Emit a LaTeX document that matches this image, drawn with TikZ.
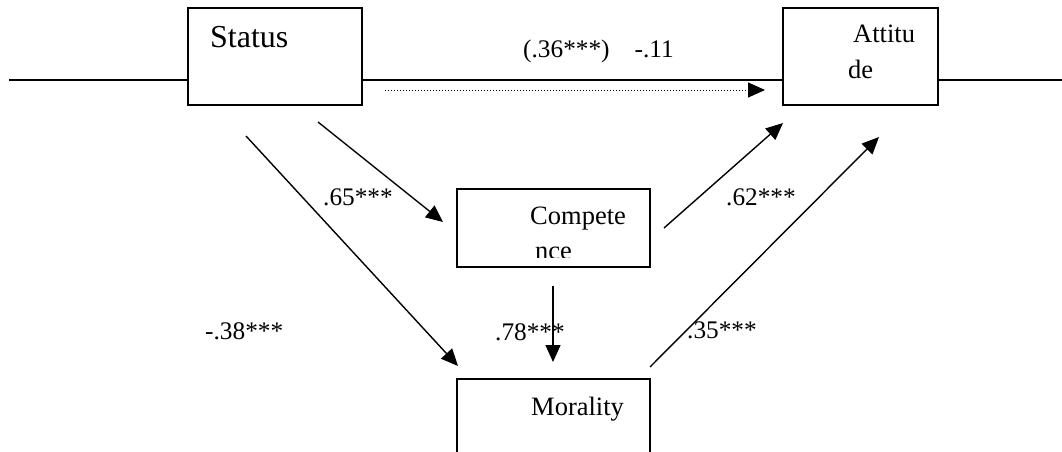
\documentclass[tikz,border=0pt]{standalone}
\usepackage{fontspec}
\setmainfont{Liberation Serif}
\usetikzlibrary{arrows.meta}

\tikzset{
  box/.style={draw, line width=2pt, fill=white, inner sep=0pt},
  lbl/.style={anchor=base west, inner sep=0pt, font=\fontsize{26.5}{32}\selectfont},
  coef/.style={anchor=base west, inner sep=0pt, font=\fontsize{25.3}{30}\selectfont},
  link/.style={line width=1.4pt, -{Triangle[length=17pt, width=15pt]}},
}

\begin{document}
\begin{tikzpicture}[x=1pt, y=-1pt]
      \clip (0,0) rectangle (1062,452);
      % long line behind the boxes
      \coordinate (L) at (9,80);
      \coordinate (R) at (1062,80);
      \draw[line width=2pt] (L)--(R);
      % boxes
      \node[box, minimum width=174pt, minimum height=97pt] (status) at (275,56.5) {};
      \node[box, minimum width=155pt, minimum height=97pt] (attitude) at (860.5,56.5) {};
      \node[box, minimum width=193pt, minimum height=78pt] (competence) at (553.5,228) {};
      \node[box, minimum width=193pt, minimum height=101pt] (morality) at (553.5,429.5) {};
      % box texts
      \node[lbl, font=\fontsize{32}{38}\selectfont] (tStatus) at (210,48) {Status};
      \node[lbl] (tAtt1) at (853,43) {Attitu};
      \node[lbl] (tAtt2) at (848,78) {de};
      \node[lbl] (tComp1) at (530,224) {Compete};
      \begin{scope}
        \clip (457,189) rectangle (650,257);
        \node[lbl] (tComp2) at (535,259) {nce};
      \end{scope}
      \node[lbl] (tMor) at (531,415) {Morality};
      % path ends
      \coordinate (d1) at (385,90);   \coordinate (d2) at (765,90);
      \coordinate (sc1) at (318,122); \coordinate (sc2) at (443,222);
      \coordinate (sm1) at (246,136); \coordinate (sm2) at (458,366);
      \coordinate (cm1) at (553,286); \coordinate (cm2) at (553,362);
      \coordinate (ca1) at (664,228); \coordinate (ca2) at (783,123);
      \coordinate (ma1) at (650,367); \coordinate (ma2) at (879,137);
      % coefficients
      \node[coef] (kDirect) at (523,58) {(.36***)\hspace{25pt}-.11};
      \node[coef] (kSC) at (323,205) {.65***};
      \node[coef] (kCA) at (726,205) {.62***};
      \node[coef] (kSM) at (205,339) {-.38***};
      \node[coef] (kCM) at (495,340) {.78***};
      \node[coef] (kMA) at (687,338) {.35***};
      % paths
      \draw[line width=1pt, dash pattern=on 1.2pt off 1.8pt, -{Triangle[length=17pt, width=15pt]}] (d1)--(d2);
      \draw[link] (sc1)--(sc2);
      \draw[link] (sm1)--(sm2);
      \draw[link] (cm1)--(cm2);
      \draw[link] (ca1)--(ca2);
      \draw[link] (ma1)--(ma2);
\end{tikzpicture}
\end{document}
